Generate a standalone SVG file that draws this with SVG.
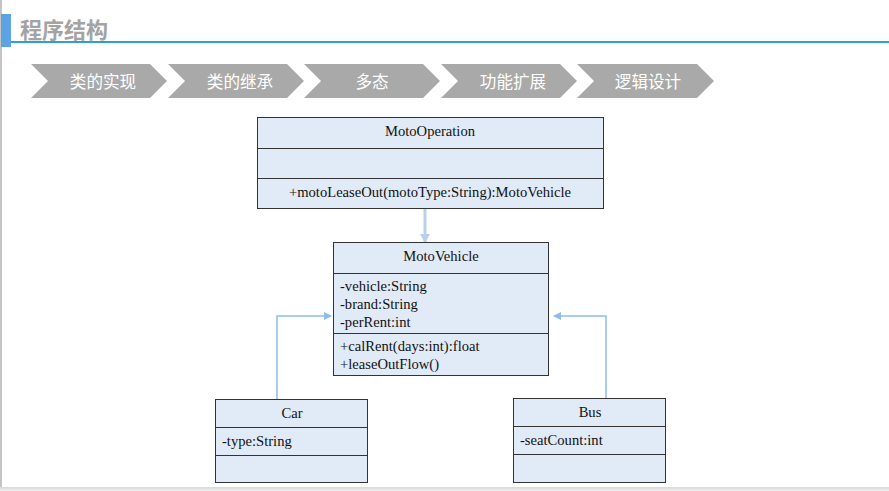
<svg xmlns="http://www.w3.org/2000/svg" width="889" height="491" viewBox="0 0 889 491">
<style>
.cls{fill:#e1ebf7;stroke:#333;stroke-width:1}
.sep{stroke:#333;stroke-width:1}
.t{font-family:"Liberation Serif","Times New Roman",serif;font-size:14.6px;fill:#111}
.c{text-anchor:middle}
.chev{fill:#a9a9a9}
.ct{font-family:"Noto Sans CJK SC","Microsoft YaHei",sans-serif;font-size:16.6px;fill:#fff;text-anchor:middle}
.conn{fill:none;stroke:#8dbcec;stroke-width:1.5}
</style>
<defs>
<marker id="ah" markerWidth="8" markerHeight="8" refX="7" refY="4" orient="auto" markerUnits="userSpaceOnUse">
<path d="M0,0 L8,4 L0,8 Z" fill="#8dbcec"/>
</marker>
<marker id="ah2" markerWidth="10" markerHeight="10" refX="8" refY="5" orient="auto" markerUnits="userSpaceOnUse">
<path d="M0,0 L9,5 L0,10 Z" fill="#b8d0ee"/>
</marker>
<linearGradient id="bot" x1="0" y1="0" x2="0" y2="1">
<stop offset="0" stop-color="#d8d8d8"/>
<stop offset="1" stop-color="#f0f0f0"/>
</linearGradient>
</defs>
<rect x="0" y="0" width="889" height="491" fill="#fff"/>
<rect x="0" y="0" width="2" height="491" fill="#c4c4c4"/>
<rect x="0" y="487" width="889" height="4" fill="url(#bot)"/>
<g id="header">
<rect x="1" y="14" width="10" height="33" fill="#5ba3e3"/>
<rect x="11" y="41" width="878" height="2" fill="#2a9ee0"/>
<text x="20" y="38" font-family="Noto Sans CJK SC,sans-serif" font-size="22" font-weight="bold" fill="#a3a3a3">程序结构</text>
</g>
<g id="steps">
<g id="step1"><path class="chev" d="M31,64 L150,64 L167,81 L150,98 L31,98 L48,81 Z"/><text class="ct" x="103" y="87.5">类的实现</text></g>
<g id="step2"><path class="chev" d="M168,64 L287,64 L304,81 L287,98 L168,98 L185,81 Z"/><text class="ct" x="240" y="87.5">类的继承</text></g>
<g id="step3"><path class="chev" d="M304,64 L423,64 L440,81 L423,98 L304,98 L321,81 Z"/><text class="ct" x="372" y="87.5">多态</text></g>
<g id="step4"><path class="chev" d="M441,64 L560,64 L577,81 L560,98 L441,98 L458,81 Z"/><text class="ct" x="513" y="87.5">功能扩展</text></g>
<g id="step5"><path class="chev" d="M577,64 L697,64 L714,81 L697,98 L577,98 L594,81 Z"/><text class="ct" x="648" y="87.5">逻辑设计</text></g>
</g>
<g id="connectors">
<line x1="425" y1="209" x2="425" y2="242" stroke="#b8d0ee" stroke-width="3" marker-end="url(#ah2)"/>
<path class="conn" d="M277,399 L277,316 L331,316" marker-end="url(#ah)"/>
<path class="conn" d="M606,398 L606,316 L554,316" marker-end="url(#ah)"/>
</g>
<g id="MotoOperation">
<rect class="cls" x="257.5" y="117.5" width="346" height="91"/>
<line class="sep" x1="257.5" y1="148.5" x2="603.5" y2="148.5"/>
<line class="sep" x1="257.5" y1="178.5" x2="603.5" y2="178.5"/>
<text class="t c" x="430" y="136">MotoOperation</text>
<text class="t c" x="430" y="197">+motoLeaseOut(motoType:String):MotoVehicle</text>
</g>
<g id="MotoVehicle">
<rect class="cls" x="333.5" y="242.5" width="215" height="133"/>
<line class="sep" x1="333.5" y1="273.5" x2="548.5" y2="273.5"/>
<line class="sep" x1="333.5" y1="333.5" x2="548.5" y2="333.5"/>
<text class="t c" x="441" y="261">MotoVehicle</text>
<text class="t" x="340" y="291">-vehicle:String</text>
<text class="t" x="340" y="309">-brand:String</text>
<text class="t" x="340" y="327">-perRent:int</text>
<text class="t" x="340" y="351">+calRent(days:int):float</text>
<text class="t" x="340" y="369">+leaseOutFlow()</text>
</g>
<g id="Car">
<rect class="cls" x="215.5" y="399.5" width="152" height="83"/>
<line class="sep" x1="215.5" y1="427.5" x2="367.5" y2="427.5"/>
<line class="sep" x1="215.5" y1="455.5" x2="367.5" y2="455.5"/>
<text class="t c" x="292" y="418">Car</text>
<text class="t" x="222" y="446">-type:String</text>
</g>
<g id="Bus">
<rect class="cls" x="513.5" y="398.5" width="152" height="84"/>
<line class="sep" x1="513.5" y1="426.5" x2="665.5" y2="426.5"/>
<line class="sep" x1="513.5" y1="454.5" x2="665.5" y2="454.5"/>
<text class="t c" x="590" y="417">Bus</text>
<text class="t" x="520" y="445">-seatCount:int</text>
</g>
</svg>
